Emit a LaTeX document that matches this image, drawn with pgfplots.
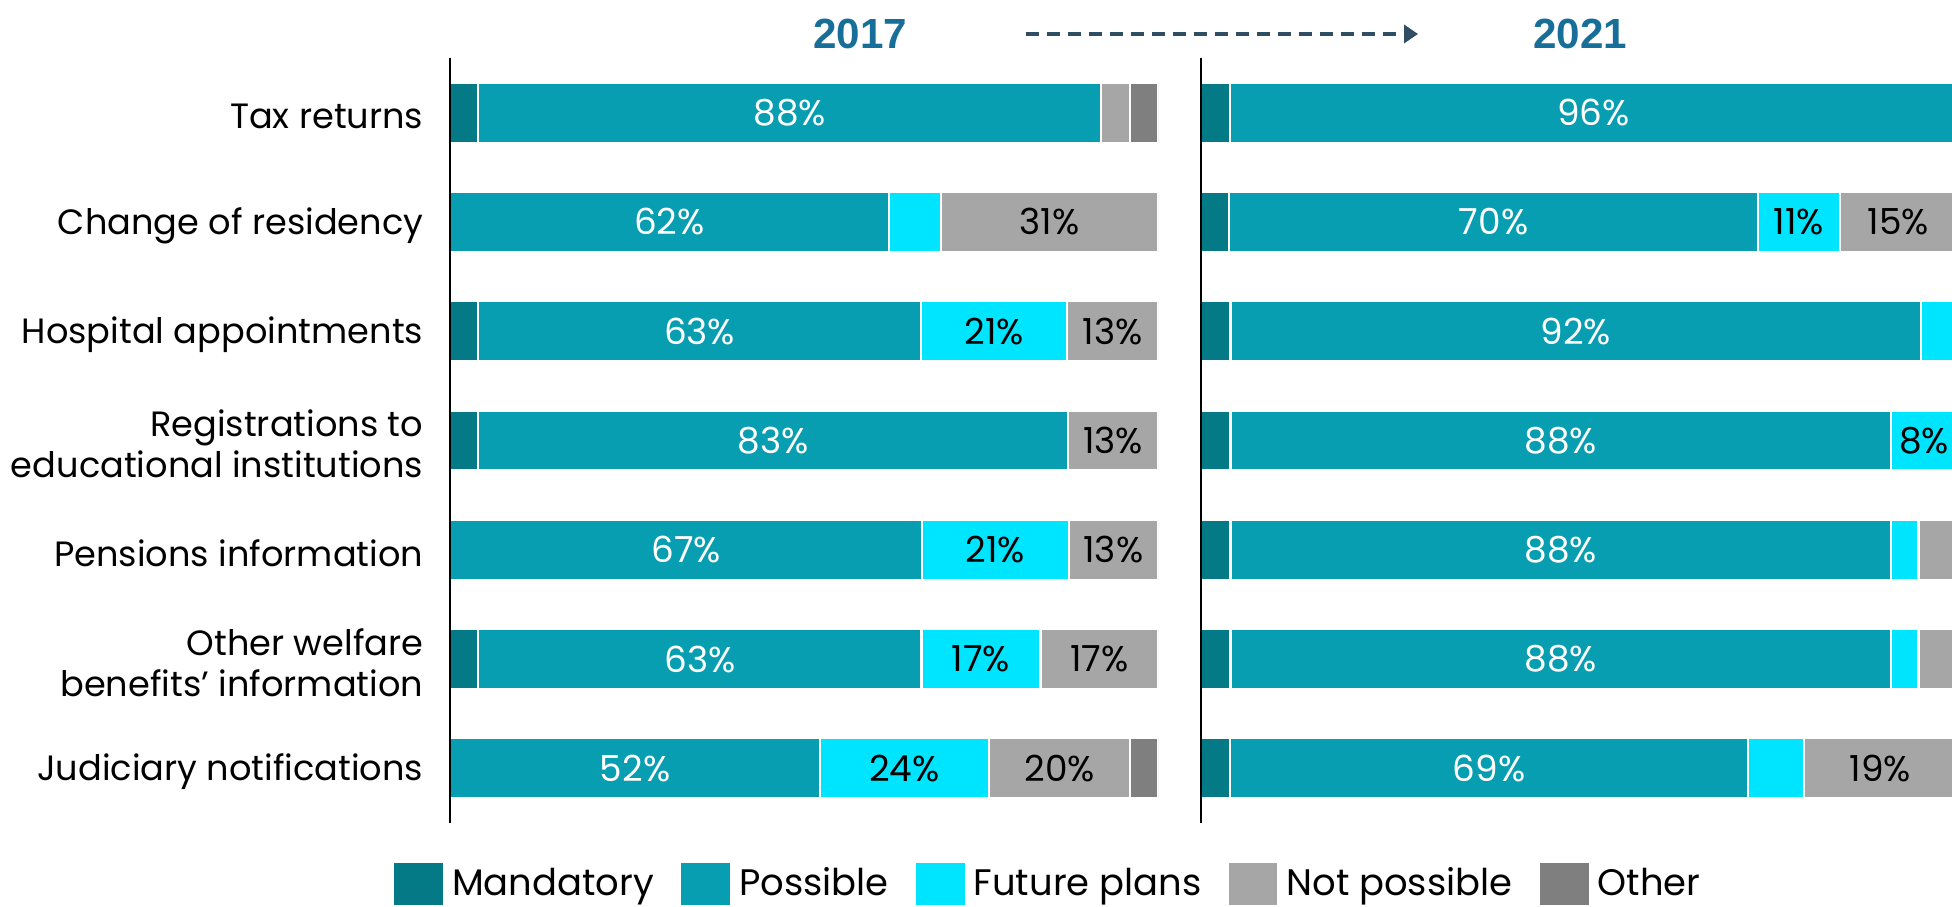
\documentclass[border=0pt]{standalone}
\usepackage{fontspec}
\setmainfont{Poppins}
\newfontfamily\headfont{Liberation Sans}
\usepackage{pgfplots}
\pgfplotsset{compat=1.18}
\usetikzlibrary{arrows.meta}

\definecolor{mandatory}{HTML}{037A86}
\definecolor{possible}{HTML}{069EB0}
\definecolor{future}{HTML}{00E5FF}
\definecolor{notposs}{HTML}{A6A6A6}
\definecolor{other}{HTML}{7F7F7F}
\definecolor{yearblue}{HTML}{176E98}
\definecolor{arrowcol}{HTML}{2F4D63}

\pgfplotsset{
  panel/.style={
    xbar stacked, bar width=0.6cm,
    scale only axis, height=7.65cm,
    ymin=-0.5, ymax=6.5, y dir=reverse,
    xmin=0, xmax=100,
    axis x line=none, axis y line*=left,
    y axis line style={line width=0.5pt, black},
    ytick={0,...,6}, major tick length=0,
    axis on top,
    nodes near coords,
    point meta=explicit symbolic,
    every node near coord/.append style={anchor=center, text=black,
      font=\fontsize{10.2}{12}\selectfont},
  },
  seg/.style={fill=#1, draw=white, line width=0.6pt},
  white labels/.style={every node near coord/.append style={text=white}},
}

\begin{document}
\begin{tikzpicture}
\path[use as bounding box] (0,0) rectangle (19.52,9.06);

% 2017
\begin{axis}[panel, at={(4.50cm,0.83cm)}, anchor=south west,
  width=7.08cm,
  yticklabels={Tax returns, Change of residency, Hospital appointments,
    {Registrations to\\educational institutions}, Pensions information,
    {Other welfare\\benefits’ information}, Judiciary notifications},
  yticklabel style={align=right, font=\fontsize{10}{11.6}\selectfont,
    inner xsep=0pt, xshift=-0.26cm, yshift=-0.035cm},
  legend columns=5,
  legend style={at={(0.847,-0.080)}, anchor=center, draw=none, fill=none,
    font=\fontsize{10.5}{12.5}\selectfont,
    /tikz/every even column/.append style={column sep=0.18cm}},
  legend image code/.code={\fill[#1] (0cm,-0.22cm) rectangle (0.51cm,0.22cm);},
]
\addplot[seg=mandatory] coordinates {
  (4,0)[] (0,1)[] (4,2)[] (4,3)[] (0,4)[] (4,5)[] (0,6)[]};
\addlegendentry{Mandatory}
\addplot[seg=possible, white labels] coordinates {
  (88,0)[88\%] (62,1)[62\%] (62.5,2)[63\%] (83.3,3)[83\%]
  (66.7,4)[67\%] (62.6,5)[63\%] (52.3,6)[52\%]};
\addlegendentry{Possible}
\addplot[seg=future] coordinates {
  (0,0)[] (7.4,1)[] (20.7,2)[21\%] (0,3)[]
  (20.7,4)[21\%] (16.8,5)[17\%] (23.8,6)[24\%]};
\addlegendentry{Future plans}
\addplot[seg=notposs] coordinates {
  (4,0)[] (30.6,1)[31\%] (12.8,2)[13\%] (12.7,3)[13\%]
  (12.6,4)[13\%] (16.6,5)[17\%] (20,6)[20\%]};
\addlegendentry{Not possible}
\addplot[seg=other] coordinates {
  (4,0)[] (0,1)[] (0,2)[] (0,3)[] (0,4)[] (0,5)[] (3.9,6)[]};
\addlegendentry{Other}
\end{axis}

% 2021 (runs slightly past the right edge of the page, as in the source)
\begin{axis}[panel, at={(12.01cm,0.83cm)}, anchor=south west,
  width=7.56cm, ytick=\empty]
\addplot[seg=mandatory] coordinates {
  (3.8,0)[] (3.7,1)[] (3.9,2)[] (3.9,3)[] (3.9,4)[] (3.9,5)[] (3.8,6)[]};
\addplot[seg=possible, white labels] coordinates {
  (96.2,0)[96\%] (70,1)[70\%] (91.3,2)[92\%] (87.4,3)[88\%]
  (87.4,4)[88\%] (87.4,5)[88\%] (68.6,6)[69\%]};
\addplot[seg=future] coordinates {
  (0,0)[] (10.8,1)[11\%] (4.8,2)[] (8.7,3)[8\%]
  (3.6,4)[] (3.6,5)[] (7.3,6)[]};
\addplot[seg=notposs] coordinates {
  (0,0)[] (15.5,1)[15\%] (0,2)[] (0,3)[]
  (5.1,4)[] (5.1,5)[] (20.3,6)[19\%]};
\end{axis}

\node[font=\headfont\bfseries\fontsize{12}{14}\selectfont, text=yearblue]
  at (8.60,8.72) {2017};
\node[font=\headfont\bfseries\fontsize{12}{14}\selectfont, text=yearblue]
  at (15.80,8.72) {2021};
\draw[arrowcol, line width=1.1pt, dash pattern=on 0.13cm off 0.08cm,
  -{Triangle[length=0.14cm,width=0.18cm]}] (10.26,8.72) -- (14.18,8.72);
\end{tikzpicture}
\end{document}
